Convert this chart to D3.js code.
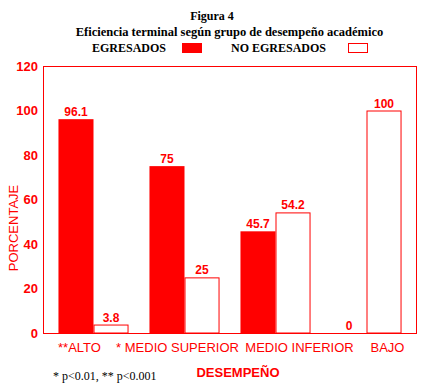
<!DOCTYPE html>
<html lang="es">
<head>
<meta charset="utf-8">
<title>Figura 4</title>
<script src="https://cdn.jsdelivr.net/npm/d3@7"></script>
<style>
  body { margin: 0; background: #fff; }
  .ttl { font-family: "Liberation Serif", "Times New Roman", serif; font-weight: bold; font-size: 12px; fill: #000; }
  .red { font-family: "Liberation Sans", Arial, sans-serif; fill: #ff0000; }
</style>
</head>
<body>
<script>
// data
var categories = ["**ALTO", "* MEDIO SUPERIOR", "MEDIO INFERIOR", "BAJO"];
var egresados = [96.1, 75, 45.7, 0];
var noEgresados = [3.8, 25, 54.2, 100];
var seriesNames = ["EGRESADOS", "NO EGRESADOS"];
var yTicks = [0, 20, 40, 60, 80, 100, 120];

var w = 425, h = 390;
var red = "#ff0000";
var plot = {left: 43, right: 417, top: 66, bottom: 333};
// category labels in the original are not centred on their groups
var labelShift = [-14, -7, 24, 21];

var svg = d3.select("body").append("svg").attr("width", w).attr("height", h);

var x0 = d3.scaleBand().domain(categories).range([48, 412]).paddingInner(0.23).paddingOuter(0.115);
var x1 = d3.scaleBand().domain(seriesNames).range([0, x0.bandwidth()]);
var y = d3.scaleLinear().domain([0, 120]).range([plot.bottom, plot.top]);

// titles
svg.append("text").attr("class", "ttl").attr("x", 212).attr("y", 20).attr("text-anchor", "middle")
  .attr("font-size", 12.5).text("Figura 4");
svg.append("text").attr("class", "ttl").attr("x", 229.5).attr("y", 36).attr("text-anchor", "middle")
  .style("font-size", "12.5px")
  .text("Eficiencia terminal según grupo de desempeño académico");

// legend
svg.append("text").attr("class", "ttl").attr("x", 92).attr("y", 52).text(seriesNames[0]);
svg.append("rect").attr("x", 182).attr("y", 43).attr("width", 20).attr("height", 10).attr("fill", red);
svg.append("text").attr("class", "ttl").attr("x", 231).attr("y", 52).text(seriesNames[1]);
svg.append("rect").attr("x", 348.5).attr("y", 43.5).attr("width", 19).attr("height", 9)
  .attr("fill", "#fff").attr("stroke", red);

// frame
svg.append("rect").attr("x", plot.left + 0.5).attr("y", plot.top + 0.5)
  .attr("width", plot.right - plot.left - 1).attr("height", plot.bottom - plot.top)
  .attr("fill", "none").attr("stroke", red);

// y axis labels
var yAxis = svg.append("g").attr("transform", "translate(" + plot.left + ",0)")
  .call(d3.axisLeft(y).tickValues(yTicks).tickSize(0).tickPadding(5));
yAxis.select(".domain").remove();
yAxis.selectAll("text").attr("class", "red").attr("font-size", 13).attr("font-weight", "bold")
  .attr("fill", red).attr("font-family", null);

svg.append("text").attr("class", "red").attr("font-size", 13)
  .attr("transform", "translate(18,228) rotate(-90)").attr("text-anchor", "middle").text("PORCENTAJE");

// bars
var groups = svg.selectAll(".grp").data(categories).enter().append("g")
  .attr("transform", function(d) { return "translate(" + x0(d) + ",0)"; });

groups.each(function(d, i) {
  var g = d3.select(this);
  var vals = [egresados[i], noEgresados[i]];
  vals.forEach(function(v, j) {
    if (v > 0) {
      g.append("rect")
        .attr("x", x1(seriesNames[j]) + (j ? 0.5 : 0))
        .attr("y", y(v) + (j ? 0.5 : 0))
        .attr("width", x1.bandwidth() - (j ? 1 : 0))
        .attr("height", y(0) - y(v) - (j ? 0.5 : 0))
        .attr("fill", j ? "#fff" : red)
        .attr("stroke", j ? red : "none");
    }
    g.append("text").attr("class", "red").attr("font-size", 12).attr("font-weight", "bold")
      .attr("text-anchor", "middle")
      .attr("x", x1(seriesNames[j]) + x1.bandwidth() / 2)
      .attr("y", y(v) - 3)
      .text(v);
  });
});

// category labels
svg.selectAll(".cat").data(categories).enter().append("text")
  .attr("class", "red").attr("font-size", 13)
  .attr("text-anchor", "middle")
  .attr("x", function(d, i) { return x0(d) + x0.bandwidth() / 2 + labelShift[i]; })
  .attr("y", 352)
  .text(function(d) { return d; });

svg.append("text").attr("class", "red").attr("font-size", 13).attr("font-weight", "bold")
  .attr("x", 238).attr("y", 377).attr("text-anchor", "middle").text("DESEMPEÑO");

svg.append("text").attr("font-family", "Liberation Serif, serif").attr("font-size", 12)
  .attr("x", 53).attr("y", 380).text("* p<0.01, ** p<0.001");
</script>
</body>
</html>
